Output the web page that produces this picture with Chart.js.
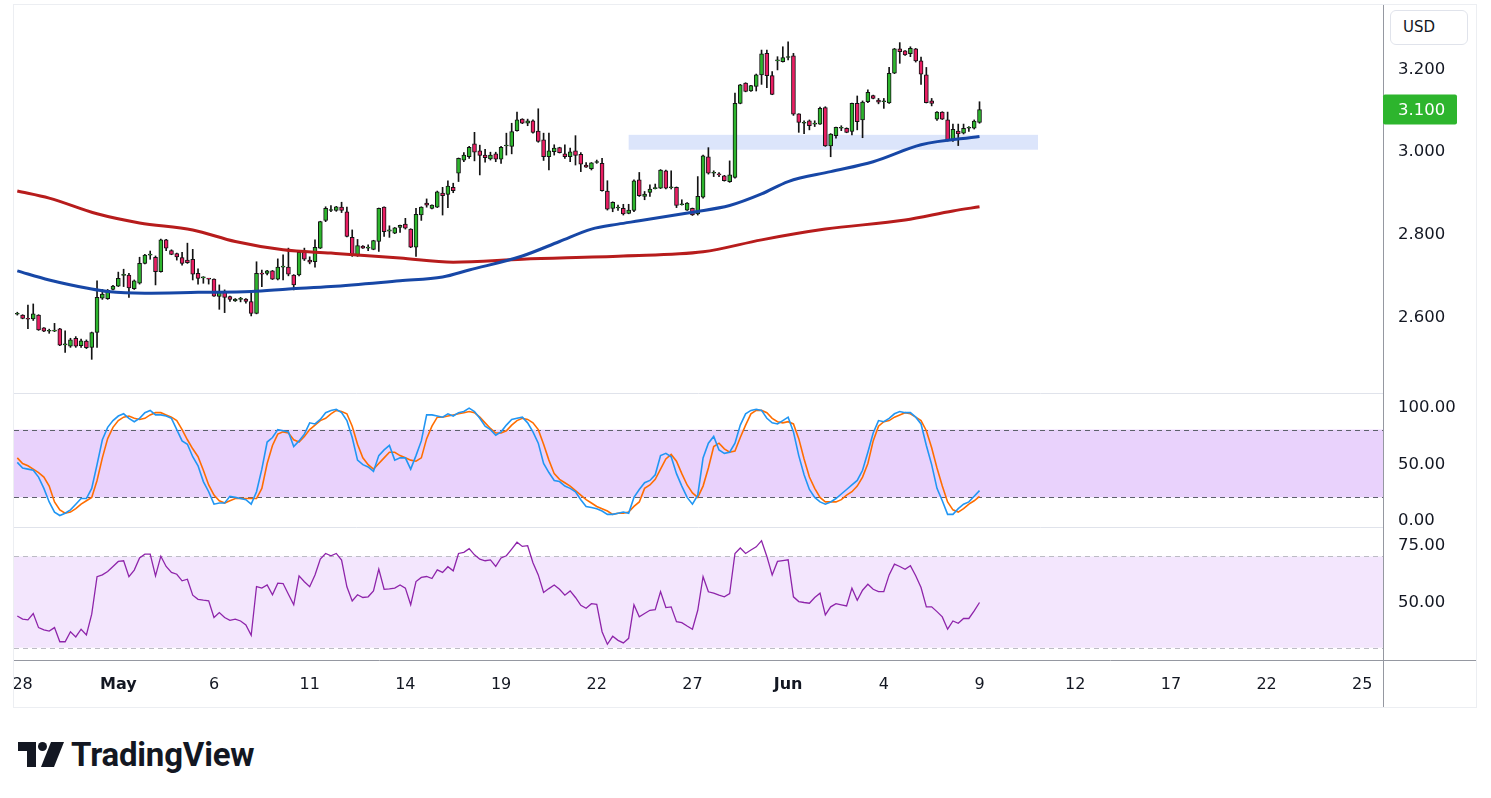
<!DOCTYPE html>
<html>
<head>
<meta charset="utf-8">
<script src="https://cdn.jsdelivr.net/npm/chart.js@4.4.1/dist/chart.umd.min.js"></script>
<style>
  body { margin: 0; background: #fff; font-family: "DejaVu Sans", sans-serif; }
  #frame { position: absolute; left: 13px; top: 4px; width: 1462px; height: 702px; border: 1px solid #eceef2; }
  #usd { position: absolute; left: 1390px; top: 10px; width: 78px; height: 35px; box-sizing: border-box;
         border: 1px solid #e0e3eb; border-radius: 6px; font: 15px "DejaVu Sans", sans-serif; color: #131722;
         line-height: 33px; padding-left: 12px; background: #fff; }
  #logo { position: absolute; left: 18px; top: 735px; display: flex; align-items: center; }
  #logo span { font: 700 33px Roboto, sans-serif; color: #131722; margin-left: 7px; letter-spacing: -0.2px; }
</style>
</head>
<body>
<div id="frame"><canvas id="chart"></canvas></div>
<div id="usd">USD</div>
<div id="logo">
  <svg width="46" height="26" viewBox="0 0 46 26">
    <path d="M0 0 H18 V25 H9 V9 H0 Z" fill="#131722"/>
    <circle cx="24.5" cy="4.5" r="4.5" fill="#131722"/>
    <path d="M33 0 H46 L36 25 H23 Z" fill="#131722"/>
  </svg>
  <span>TradingView</span>
</div>
<script>
// 4h candles, index 0 = first bar on the left
const opens = [2.605,2.603,2.595,2.594,2.603,2.572,2.564,2.564,2.570,2.531,
  2.528,2.547,2.529,2.540,2.525,2.561,2.644,2.643,2.665,2.673,
  2.699,2.700,2.667,2.680,2.728,2.748,2.743,2.708,2.785,2.759,
  2.752,2.742,2.736,2.738,2.704,2.693,2.691,2.690,2.648,2.658,
  2.648,2.637,2.641,2.642,2.636,2.607,2.704,2.704,2.710,2.690,
  2.719,2.719,2.700,2.700,2.755,2.736,2.732,2.765,2.832,2.856,
  2.856,2.864,2.853,2.791,2.748,2.770,2.765,2.762,2.781,2.864,
  2.806,2.801,2.815,2.823,2.811,2.767,2.845,2.874,2.861,2.864,
  2.898,2.895,2.912,2.946,2.978,2.986,3.017,3.000,2.990,2.981,
  2.993,2.980,3.012,3.011,3.049,3.077,3.067,3.073,3.048,3.027,
  2.986,2.998,3.008,2.993,2.986,3.000,2.992,2.966,2.957,2.972,
  2.970,2.903,2.861,2.862,2.861,2.849,2.856,2.930,2.890,2.900,
  2.909,2.910,2.952,2.911,2.912,2.870,2.857,2.861,2.848,2.888,
  2.986,2.946,2.943,2.940,2.926,2.936,3.115,3.164,3.145,3.156,
  3.184,3.236,3.182,3.218,3.216,3.226,3.230,3.090,3.067,3.073,
  3.065,3.065,3.105,3.012,3.037,3.055,3.055,3.047,3.115,3.075,
  3.119,3.134,3.123,3.119,3.116,3.188,3.247,3.242,3.235,3.247,
  3.218,3.184,3.121,3.077,3.094,3.075,3.027,3.048,3.043,3.055,
  3.055,3.069];
const highs = [2.610,2.604,2.627,2.630,2.604,2.573,2.569,2.583,2.571,2.565,
  2.547,2.551,2.545,2.543,2.562,2.686,2.665,2.665,2.675,2.707,
  2.714,2.704,2.688,2.743,2.750,2.758,2.746,2.787,2.786,2.761,
  2.753,2.755,2.777,2.762,2.715,2.696,2.692,2.691,2.676,2.664,
  2.649,2.643,2.646,2.643,2.656,2.732,2.712,2.711,2.711,2.739,
  2.749,2.765,2.701,2.758,2.765,2.744,2.785,2.830,2.865,2.868,
  2.866,2.876,2.864,2.809,2.786,2.771,2.773,2.784,2.862,2.865,
  2.819,2.815,2.821,2.837,2.812,2.861,2.865,2.884,2.870,2.903,
  2.912,2.928,2.922,2.983,2.996,3.011,3.045,3.014,3.004,2.997,
  2.997,3.011,3.043,3.067,3.094,3.078,3.077,3.075,3.102,3.043,
  3.043,3.015,3.009,3.015,3.007,3.037,2.996,2.972,2.972,2.978,
  2.982,2.928,2.877,2.869,2.871,2.871,2.930,2.948,2.902,2.918,
  2.920,2.955,2.954,2.952,2.913,2.882,2.875,2.862,2.938,2.990,
  3.008,2.952,2.948,2.941,2.976,3.140,3.161,3.165,3.159,3.186,
  3.244,3.244,3.192,3.228,3.252,3.264,3.236,3.090,3.073,3.075,
  3.073,3.106,3.107,3.042,3.058,3.061,3.056,3.116,3.133,3.121,
  3.148,3.135,3.127,3.127,3.202,3.248,3.262,3.243,3.252,3.248,
  3.227,3.202,3.127,3.095,3.095,3.094,3.065,3.065,3.065,3.059,
  3.075,3.119];
const lows = [2.603,2.594,2.570,2.590,2.566,2.563,2.559,2.563,2.529,2.513,
  2.525,2.525,2.525,2.522,2.496,2.525,2.641,2.641,2.664,2.672,
  2.672,2.646,2.665,2.678,2.727,2.738,2.676,2.707,2.759,2.749,
  2.736,2.724,2.728,2.688,2.678,2.680,2.678,2.648,2.617,2.609,
  2.636,2.636,2.635,2.632,2.601,2.606,2.672,2.700,2.689,2.688,
  2.688,2.698,2.664,2.698,2.735,2.727,2.719,2.764,2.829,2.853,
  2.854,2.851,2.792,2.745,2.745,2.764,2.759,2.761,2.757,2.793,
  2.791,2.800,2.803,2.811,2.766,2.745,2.832,2.864,2.860,2.863,
  2.845,2.863,2.899,2.926,2.974,2.982,2.976,2.942,2.973,2.978,
  2.974,2.970,2.990,2.993,3.048,3.066,3.061,3.043,3.021,2.977,
  2.954,2.990,2.995,2.982,2.974,2.966,2.950,2.960,2.954,2.970,
  2.903,2.857,2.853,2.856,2.845,2.848,2.853,2.890,2.882,2.890,
  2.908,2.909,2.908,2.908,2.863,2.869,2.856,2.844,2.845,2.886,
  2.944,2.938,2.938,2.927,2.924,2.934,3.114,3.143,3.144,3.145,
  3.161,3.153,3.136,3.196,3.215,3.220,3.086,3.045,3.042,3.051,
  3.059,3.064,3.011,2.986,3.031,3.049,3.044,3.039,3.051,3.032,
  3.117,3.126,3.114,3.103,3.115,3.187,3.212,3.231,3.228,3.215,
  3.161,3.116,3.109,3.074,3.076,3.024,3.023,3.013,3.041,3.047,
  3.053,3.067];
const closes = [2.605,2.595,2.593,2.606,2.567,2.564,2.565,2.567,2.530,2.531,
  2.543,2.528,2.541,2.524,2.561,2.646,2.654,2.663,2.673,2.692,
  2.699,2.669,2.686,2.728,2.748,2.749,2.708,2.785,2.765,2.750,
  2.744,2.728,2.730,2.702,2.692,2.693,2.690,2.649,2.658,2.646,
  2.641,2.642,2.641,2.636,2.607,2.704,2.702,2.710,2.690,2.719,
  2.719,2.702,2.676,2.755,2.738,2.731,2.767,2.829,2.861,2.856,
  2.865,2.856,2.793,2.749,2.771,2.765,2.765,2.783,2.861,2.805,
  2.809,2.814,2.820,2.813,2.767,2.847,2.864,2.869,2.869,2.901,
  2.892,2.915,2.904,2.982,2.990,3.009,2.997,2.989,2.984,2.990,
  2.980,3.009,3.013,3.047,3.075,3.067,3.073,3.045,3.023,2.986,
  3.000,3.007,2.996,2.986,2.998,2.989,2.968,2.961,2.971,2.973,
  2.904,2.859,2.876,2.862,2.848,2.857,2.928,2.892,2.896,2.908,
  2.910,2.954,2.910,2.912,2.868,2.871,2.874,2.845,2.890,2.988,
  2.946,2.946,2.942,2.928,2.942,3.115,3.160,3.144,3.158,3.184,
  3.235,3.182,3.137,3.218,3.226,3.227,3.089,3.069,3.068,3.061,
  3.066,3.103,3.012,3.041,3.057,3.055,3.045,3.115,3.071,3.118,
  3.142,3.127,3.118,3.120,3.188,3.247,3.240,3.232,3.248,3.218,
  3.186,3.117,3.115,3.094,3.077,3.025,3.052,3.041,3.055,3.055,
  3.072,3.100];

// moving averages, read at a few bars
const maFastIdx = [0,6,14,17,24,34,44,51,59,72,80,85,95,102,108,113,117,127,134,140,145,153,161,170,181];
const maFastVal = [2.710,2.688,2.666,2.660,2.656,2.658,2.660,2.666,2.672,2.686,2.695,2.712,2.746,2.781,2.811,2.823,2.831,2.852,2.868,2.896,2.926,2.950,2.974,3.015,3.035];
const maSlowIdx = [0,6,15,23,33,41,50,59,72,82,95,114,129,140,152,167,176,181];
const maSlowVal = [2.903,2.886,2.848,2.826,2.809,2.781,2.761,2.753,2.741,2.731,2.738,2.746,2.756,2.785,2.811,2.833,2.855,2.865];

const stochK = [51,46,45,44,38,28,16,7,4,6, 9,14,19,19,28,49,71,82,88,92,
  94,90,87,90,95,97,93,93,92,90, 80,70,67,56,48,34,25,14,15,15,
  21,20,19,18,14,25,45,69,73,80, 79,78,65,70,76,86,85,89,95,97,
  98,95,88,73,53,49,47,43,57,62, 66,53,55,55,45,57,70,93,93,92,
  91,94,92,95,96,99,96,90,83,80, 75,78,84,89,90,91,86,78,68,50,
  42,35,34,30,28,25,18,12,11,10, 8,5,5,6,7,6,20,27,33,35,
  40,57,59,56,41,30,20,14,22,55, 68,74,62,59,60,68,84,94,97,98,
  97,90,86,85,88,91,78,57,40,27, 20,16,14,16,19,23,27,31,35,44,
  60,77,88,87,90,94,96,95,95,91, 85,66,49,28,17,5,5,10,14,16,
  21,26];
const stochD = [55,50,48,45,42,38,30,16,9,6, 7,10,14,17,20,35,55,72,82,88,
  91,92,90,89,90,93,95,95,93,91, 88,80,71,63,56,44,31,22,17,15,
  17,19,19,19,19,19,28,50,66,76, 78,77,71,69,74,80,84,88,90,94,
  97,96,94,83,67,55,49,45,50,55, 60,60,57,55,53,52,55,72,83,91,
  91,92,93,94,95,96,95,91,86,81, 77,77,79,84,88,90,89,86,80,67,
  53,41,36,33,30,26,22,18,15,12, 10,8,5,6,6,7,12,16,28,31,
  36,45,54,58,52,41,31,24,20,30, 46,65,68,63,60,61,73,84,94,97,
  97,95,90,87,86,87,85,72,54,38, 28,20,16,16,16,18,22,25,30,38,
  50,70,83,87,88,91,93,95,94,91, 88,79,64,46,30,16,9,7,10,14,
  17,21];
const rsi = [43.9,42.5,42.2,45.0,38.8,37.8,37.3,38.8,32.6,32.6,
  37.0,34.7,38.1,35.6,44.7,61.1,61.9,63.4,65.6,67.8,
  68.1,61.1,64.0,69.3,71.0,71.0,61.5,70.1,65.6,63.0,
  62.2,59.3,60.0,53.0,51.2,50.8,50.5,43.2,45.4,43.2,
  42.0,42.5,41.7,40.0,35.4,56.8,56.1,57.5,53.2,58.3,
  58.1,53.4,48.8,61.5,58.9,56.7,61.9,68.8,71.3,70.3,
  71.3,68.4,56.7,50.5,53.2,52.0,52.3,54.9,64.4,55.6,
  55.8,56.1,57.5,56.1,48.8,59.0,60.8,61.2,60.3,64.1,
  63.0,65.5,63.7,71.3,71.8,73.4,70.7,68.8,68.1,68.5,
  65.6,69.3,70.3,73.2,76.2,74.4,74.7,67.2,61.9,54.2,
  55.9,57.5,55.6,53.0,54.9,52.0,48.6,47.3,49.3,49.0,
  37.0,31.5,35.0,33.2,32.1,34.1,48.8,43.5,45.0,46.4,
  46.7,54.6,47.6,47.9,41.4,41.0,39.5,38.1,46.4,61.1,
  54.5,53.9,53.0,52.3,53.7,71.3,73.7,71.3,72.8,74.2,
  76.9,70.0,61.9,67.8,68.2,68.5,52.3,50.2,49.8,49.5,
  52.0,53.9,44.4,47.9,49.3,48.8,48.3,56.1,50.8,55.2,
  57.8,55.6,54.6,54.6,61.9,66.6,65.6,64.4,65.9,61.5,
  56.4,47.9,47.9,45.8,43.5,38.1,41.7,40.7,42.8,42.8,
  46.1,49.8];

const tickIdx = [1,19,37,55,73,91,109,127,145,163,181,199,217,235,253];
const tickLabels = ['28','May','6','11','14','19','22','27','Jun','4','9','12','17','22','25'];
const monthLabels = ['May','Jun'];
const priceTicks = [2.6, 2.8, 3.0, 3.2];
const stochTicks = [0, 50, 100];
const rsiTicks = [50, 75];
const stochBand = [20, 80];
const rsiBand = [30, 70];
const zoneIdx = [115, 192];
const zonePrice = [3.003, 3.039];

const upColor = '#2db52d';
const downColor = '#e91e63';
const fontFamily = '"DejaVu Sans", sans-serif';
const axisFont = { family: fontFamily, size: 16.5 };

function fixWidth(scale) { scale.width = 93; scale.paddingTop = 0; scale.paddingBottom = 0; }

const panels = {
  id: 'panels',
  beforeDatasetsDraw(chart) {
    const { ctx, chartArea: a, scales } = chart;
    const x = scales.x;
    ctx.save();
    // highlighted support zone
    const zx0 = x.getPixelForValue(zoneIdx[0]), zx1 = x.getPixelForValue(zoneIdx[1]);
    const zy0 = scales.y.getPixelForValue(zonePrice[1]), zy1 = scales.y.getPixelForValue(zonePrice[0]);
    ctx.fillStyle = '#dce5fb';
    ctx.fillRect(zx0, zy0, zx1 - zx0, zy1 - zy0);
    const band = (sc, lv, fill, dash) => {
      const top = sc.getPixelForValue(lv[1]), bot = sc.getPixelForValue(lv[0]);
      ctx.fillStyle = fill;
      ctx.fillRect(a.left, top, a.right - a.left, bot - top);
      ctx.strokeStyle = dash;
      ctx.lineWidth = 1;
      ctx.setLineDash([5, 4]);
      [top, bot].forEach(py => {
        ctx.beginPath();
        ctx.moveTo(a.left, Math.round(py) + 0.5);
        ctx.lineTo(a.right, Math.round(py) + 0.5);
        ctx.stroke();
      });
      ctx.setLineDash([]);
    };
    band(scales.stoch, stochBand, '#e9d2fc', '#5d606b');
    band(scales.rsi, rsiBand, '#f3e6fd', '#bcbcc4');
    ctx.restore();
  },
  afterDraw(chart) {
    const { ctx, chartArea: a, scales, width, height } = chart;
    ctx.save();
    ctx.lineWidth = 1;
    ctx.strokeStyle = '#e0e3eb';
    [scales.stoch.top, scales.rsi.top].forEach(py => {
      ctx.beginPath();
      ctx.moveTo(0, Math.round(py) + 0.5);
      ctx.lineTo(a.right, Math.round(py) + 0.5);
      ctx.stroke();
    });
    ctx.strokeStyle = '#9598a1';
    ctx.beginPath();
    ctx.moveTo(Math.round(a.right) + 0.5, 0);
    ctx.lineTo(Math.round(a.right) + 0.5, height);
    ctx.moveTo(0, Math.round(a.bottom) + 0.5);
    ctx.lineTo(width, Math.round(a.bottom) + 0.5);
    ctx.stroke();
    // last price tag
    const last = closes[closes.length - 1];
    const py = scales.y.getPixelForValue(last);
    ctx.fillStyle = upColor;
    ctx.beginPath();
    ctx.roundRect(a.right, py - 15, 74, 30, 2);
    ctx.fill();
    ctx.fillStyle = '#fff';
    ctx.font = '16.5px ' + fontFamily;
    ctx.textBaseline = 'middle';
    ctx.fillText(last.toFixed(3), a.right + 15, py + 1);
    ctx.restore();
  }
};

new Chart(document.getElementById('chart'), {
  type: 'bar',
  data: {
    datasets: [
      {
        type: 'line', yAxisID: 'y', order: 0,
        data: maFastIdx.map((v, i) => ({ x: v, y: maFastVal[i] })),
        borderColor: '#1747a6', borderWidth: 3, pointRadius: 0, cubicInterpolationMode: 'monotone'
      },
      {
        type: 'line', yAxisID: 'y', order: 0,
        data: maSlowIdx.map((v, i) => ({ x: v, y: maSlowVal[i] })),
        borderColor: '#b71c1c', borderWidth: 3, pointRadius: 0, cubicInterpolationMode: 'monotone'
      },
      {
        yAxisID: 'y', order: 1, grouped: false,
        data: closes.map((c, i) => ({ x: i, y: [opens[i], c] })),
        backgroundColor: closes.map((c, i) => c >= opens[i] ? upColor : downColor),
        borderColor: '#131313', borderWidth: 1, borderSkipped: false,
        barThickness: 4, minBarLength: 1
      },
      {
        yAxisID: 'y', order: 2, grouped: false,
        data: lows.map((l, i) => ({ x: i, y: [l, highs[i]] })),
        backgroundColor: '#131313', borderWidth: 0, barThickness: 1
      },
      {
        type: 'line', yAxisID: 'stoch', order: 0,
        data: stochK.map((v, i) => ({ x: i, y: v })),
        borderColor: '#2196f3', borderWidth: 1.6, pointRadius: 0, tension: 0
      },
      {
        type: 'line', yAxisID: 'stoch', order: 0,
        data: stochD.map((v, i) => ({ x: i, y: v })),
        borderColor: '#ff6d00', borderWidth: 1.6, pointRadius: 0, tension: 0
      },
      {
        type: 'line', yAxisID: 'rsi', order: 0,
        data: rsi.map((v, i) => ({ x: i, y: v })),
        borderColor: '#8e24aa', borderWidth: 1.3, pointRadius: 0, tension: 0
      }
    ]
  },
  options: {
    responsive: true,
    maintainAspectRatio: false,
    animation: false,
    events: [],
    layout: { padding: 0 },
    plugins: { legend: { display: false }, tooltip: { enabled: false } },
    scales: {
      x: {
        type: 'linear', min: -0.62, max: 256.9, offset: false,
        grid: { display: false, drawTicks: false }, border: { display: false },
        afterBuildTicks: s => { s.ticks = tickIdx.map(v => ({ value: v })); },
        afterFit: s => { s.height = 47; s.paddingLeft = 0; s.paddingRight = 0; },
        ticks: {
          autoSkip: false, maxRotation: 0, padding: 15, color: '#131722',
          callback: (v, i) => tickLabels[i],
          font: c => ({ family: fontFamily, size: 16, weight: monthLabels.includes(tickLabels[c.index]) ? 'bold' : 'normal' })
        }
      },
      y: {
        axis: 'y', position: 'right', stack: 'pane', stackWeight: 388,
        min: 2.4146, max: 3.353, beginAtZero: false, offset: false,
        grid: { display: false, drawTicks: false }, border: { display: false },
        afterBuildTicks: s => { s.ticks = priceTicks.map(v => ({ value: v })); },
        afterFit: fixWidth,
        ticks: { padding: 15, labelOffset: 1, color: '#131722', font: axisFont, callback: v => v.toFixed(3) }
      },
      stoch: {
        axis: 'y', position: 'right', stack: 'pane', stackWeight: 134,
        min: -6.2, max: 112.4, beginAtZero: false, offset: false,
        grid: { display: false, drawTicks: false }, border: { display: false },
        afterBuildTicks: s => { s.ticks = stochTicks.map(v => ({ value: v })); },
        afterFit: fixWidth,
        ticks: { padding: 15, labelOffset: 1, color: '#131722', font: axisFont, callback: v => v.toFixed(2) }
      },
      rsi: {
        axis: 'y', position: 'right', stack: 'pane', stackWeight: 133,
        min: 24.6, max: 82.9, beginAtZero: false, offset: false,
        grid: { display: false, drawTicks: false }, border: { display: false },
        afterBuildTicks: s => { s.ticks = rsiTicks.map(v => ({ value: v })); },
        afterFit: fixWidth,
        ticks: { padding: 15, labelOffset: 1, color: '#131722', font: axisFont, callback: v => v.toFixed(2) }
      }
    }
  },
  plugins: [panels]
});
</script>
</body>
</html>
